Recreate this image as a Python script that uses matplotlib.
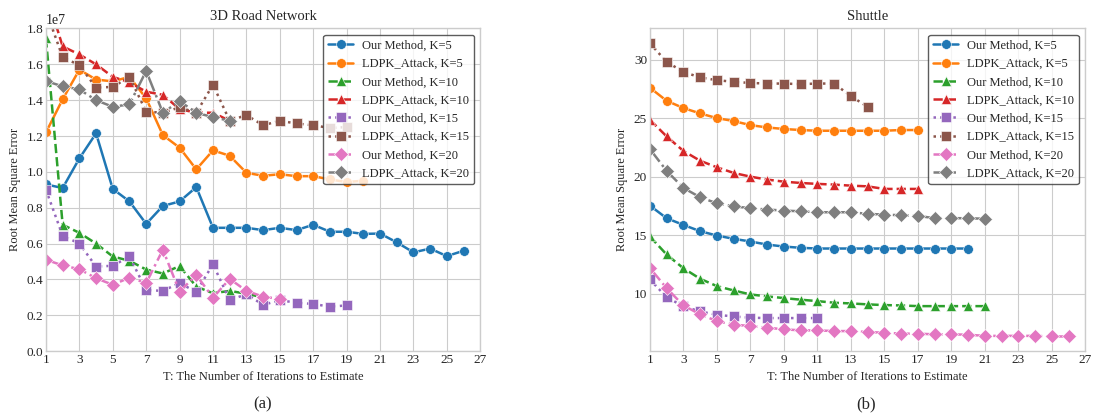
import matplotlib
matplotlib.use("Agg")
import matplotlib.pyplot as plt

plt.style.use("seaborn-v0_8-whitegrid")
plt.rcParams["font.family"] = ["Liberation Serif", "DejaVu Serif"]
plt.rcParams["mathtext.fontset"] = "stix"

# ---- data: 3D Road Network (values in units of 1e7) ----
road_our_k5 = [0.93, 0.91, 1.075, 1.215, 0.905, 0.835, 0.71, 0.81, 0.835, 0.915, 0.688,
               0.688, 0.688, 0.675, 0.688, 0.675, 0.705, 0.666, 0.666, 0.654, 0.656,
               0.607, 0.551, 0.572, 0.53, 0.56]
road_ldpk_k5 = [1.22, 1.405, 1.57, 1.515, 1.505, 1.53, 1.41, 1.205, 1.135, 1.014, 1.12,
                1.09, 0.995, 0.978, 0.987, 0.976, 0.976, 0.958, 0.943, 0.951]
road_our_k10 = [1.745, 0.705, 0.66, 0.60, 0.528, 0.504, 0.455, 0.433, 0.475, 0.36, 0.323,
                0.336, 0.32, 0.30]
road_ldpk_k10 = [2.0, 1.70, 1.655, 1.60, 1.53, 1.50, 1.447, 1.43, 1.35, 1.33, 1.33, 1.285]
road_our_k15 = [0.90, 0.644, 0.60, 0.472, 0.476, 0.528, 0.341, 0.336, 0.38, 0.33, 0.485,
                0.284, 0.318, 0.258, 0.284, 0.27, 0.263, 0.248, 0.255]
road_ldpk_k15 = [1.9, 1.64, 1.595, 1.47, 1.474, 1.53, 1.336, 1.33, 1.36, 1.33, 1.486,
                 1.285, 1.317, 1.26, 1.285, 1.27, 1.26, 1.245, 1.25]
road_our_k20 = [0.51, 0.478, 0.457, 0.407, 0.37, 0.41, 0.38, 0.566, 0.332, 0.425, 0.298,
                0.403, 0.336, 0.304, 0.291]
road_ldpk_k20 = [1.507, 1.477, 1.46, 1.40, 1.363, 1.377, 1.563, 1.33, 1.395, 1.33, 1.305,
                 1.285]

# ---- data: Shuttle ----
shut_our_k5 = [17.53, 16.45, 15.88, 15.34, 14.97, 14.69, 14.46, 14.2, 14.03, 13.92,
               13.86, 13.86, 13.86, 13.86, 13.86, 13.86, 13.86, 13.86, 13.86, 13.86]
shut_ldpk_k5 = [27.6, 26.48, 25.86, 25.4, 25.0, 24.75, 24.4, 24.2, 24.07, 23.98, 23.92,
                23.92, 23.92, 23.92, 23.92, 23.98, 23.98]
shut_our_k10 = [14.9, 13.35, 12.18, 11.28, 10.65, 10.28, 9.94, 9.77, 9.63, 9.49, 9.37,
                9.23, 9.17, 9.09, 9.03, 9.0, 8.94, 8.94, 8.94, 8.94, 8.94]
shut_ldpk_k10 = [24.86, 23.44, 22.2, 21.36, 20.8, 20.32, 20.0, 19.75, 19.57, 19.46, 19.38,
                 19.32, 19.23, 19.17, 18.95, 18.95, 18.95]
shut_our_k15 = [11.22, 9.71, 8.92, 8.49, 8.2, 8.06, 7.95, 7.92, 7.92, 7.92, 7.92]
shut_ldpk_k15 = [31.4, 29.8, 28.95, 28.47, 28.24, 28.1, 28.0, 27.95, 27.95, 27.9, 27.95,
                 27.95, 26.88, 25.97]
shut_our_k20 = [12.2, 10.48, 9.0, 8.24, 7.66, 7.36, 7.24, 7.1, 6.96, 6.87, 6.87, 6.81,
                6.81, 6.73, 6.67, 6.59, 6.59, 6.53, 6.53, 6.5, 6.4, 6.4, 6.4, 6.4, 6.35,
                6.35]
shut_ldpk_k20 = [22.36, 20.5, 19.04, 18.24, 17.72, 17.47, 17.3, 17.19, 17.1, 17.04, 16.96,
                 16.96, 16.96, 16.82, 16.76, 16.7, 16.65, 16.45, 16.45, 16.45, 16.4]

labels = ["Our Method, K=5", "LDPK_Attack, K=5", "Our Method, K=10", "LDPK_Attack, K=10",
          "Our Method, K=15", "LDPK_Attack, K=15", "Our Method, K=20", "LDPK_Attack, K=20"]
colors = ["#1f77b4", "#ff7f0e", "#2ca02c", "#d62728", "#9467bd", "#8c564b", "#e377c2", "#7f7f7f"]
markers = ["o", "o", "^", "^", "s", "s", "D", "D"]
styles = ["-", "-", "--", "--", ":", ":", "-.", "-."]

road = [road_our_k5, road_ldpk_k5, road_our_k10, road_ldpk_k10,
        road_our_k15, road_ldpk_k15, road_our_k20, road_ldpk_k20]
shuttle = [shut_our_k5, shut_ldpk_k5, shut_our_k10, shut_ldpk_k10,
           shut_our_k15, shut_ldpk_k15, shut_our_k20, shut_ldpk_k20]

fig = plt.figure(figsize=(10.94, 4.19), dpi=100)
ax1 = fig.add_axes([0.042, 0.162, 0.397, 0.77])
ax2 = fig.add_axes([0.594, 0.162, 0.398, 0.77])


def draw(ax, series, scale):
    for ys, lab, c, m, ls in zip(series, labels, colors, markers, styles):
        xs = list(range(1, len(ys) + 1))
        ax.plot(xs, [v * scale for v in ys], linestyle=ls, marker=m, color=c, label=lab,
                markersize=7, linewidth=1.8, markeredgecolor="white", markeredgewidth=0.4)
    ax.set_xlim(1, 27)
    ax.set_xticks(range(1, 28, 2))
    ax.set_xlabel("T: The Number of Iterations to Estimate", fontsize=9)
    ax.set_ylabel("Root Mean Square Error", fontsize=9)
    ax.tick_params(labelsize=9.5, pad=2)
    for s in ax.spines.values():
        s.set_edgecolor("#cccccc")
    leg = ax.legend(loc="upper right", fontsize=9, frameon=True, framealpha=0.8,
                    borderpad=0.4, labelspacing=0.5, handlelength=2.0,
                    handletextpad=0.7, borderaxespad=0.5)
    leg.get_frame().set_edgecolor("#333333")
    leg.get_frame().set_linewidth(1.0)


draw(ax1, road, 1e7)
ax1.set_ylim(0, 1.8e7)
ax1.set_title("3D Road Network", fontsize=10.5, pad=6)

draw(ax2, shuttle, 1)
ax2.set_title("Shuttle", fontsize=10.5, pad=6)

fig.text(0.240, 0.025, "(a)", ha="center", fontsize=12)
fig.text(0.792, 0.025, "(b)", ha="center", fontsize=12)

fig.savefig("out.png", dpi=100)
